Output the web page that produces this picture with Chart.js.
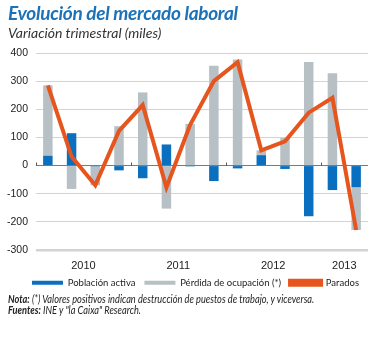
<!DOCTYPE html>
<html>
<head>
<meta charset="utf-8">
<script src="https://cdn.jsdelivr.net/npm/chart.js@4"></script>
<style>
  html, body { margin:0; padding:0; background:#fff; }
  #wrap { position:relative; width:388px; height:338px; overflow:hidden; }
  #c { position:absolute; left:0; top:0; }
  .t { position:absolute; left:8px; white-space:nowrap; }
  #title { top:1px; font-family:Lato, "Open Sans", sans-serif; font-weight:bold; font-style:italic; font-size:19px; color:#1b72b9; letter-spacing:-0.3px; }
  #sub { top:24px; font-family:Lato, "Open Sans", sans-serif; font-style:italic; font-size:14px; color:#333; }
  .note { font-family:Lato, sans-serif; font-style:italic; font-size:11px; color:#222; transform:scaleX(0.84); transform-origin:0 0; }
  #n1 { top:292px; }
  #n2 { top:303px; }
</style>
</head>
<body>
<div id="wrap">
  <canvas id="c" width="388" height="338"></canvas>
  <div id="title" class="t">Evolución del mercado laboral</div>
  <div id="sub" class="t">Variación trimestral (miles)</div>
  <div id="n1" class="t note"><b>Nota:</b> (*) Valores positivos indican destrucción de puestos de trabajo, y viceversa.</div>
  <div id="n2" class="t note"><b>Fuentes:</b> INE y "la Caixa" Research.</div>
</div>
<script>
const quarters = ['I-10','II-10','III-10','IV-10','I-11','II-11','III-11','IV-11','I-12','II-12','III-12','IV-12','I-13','II-13'];
const poblacionActiva = [35, 115, -3, -17, -45, 75, -3, -55, -10, 37, -12, -180, -87, -77];
const perdidaOcupacion = [250, -83, -67, 140, 260, -153, 148, 355, 377, 17, 98, 368, 328, -152];
const parados = [285, 32, -70, 123, 215, -78, 145, 300, 367, 54, 86, 188, 241, -229];
const yearTickPos = [1.5, 5.5, 9.5, 12.5];
const yearLabels = ['2010', '2011', '2012', '2013'];
const yearBoundaries = [-0.5, 3.5, 7.5, 11.5];
const yTicks = [-300, -200, -100, 0, 100, 200, 300, 400];

const regular = '"Liberation Sans", Arial, sans-serif';

const zeroTicks = {
  id: 'zeroTicks',
  afterDatasetsDraw(chart) {
    const xs = chart.scales.x2, ys = chart.scales.y;
    const ctx = chart.ctx;
    const y0 = ys.getPixelForValue(0);
    ctx.save();
    ctx.strokeStyle = '#555';
    ctx.lineWidth = 1;
    yearBoundaries.forEach(b => {
      const x = Math.round(xs.getPixelForValue(b)) + 0.5;
      ctx.beginPath();
      ctx.moveTo(x, y0 - 3);
      ctx.lineTo(x, y0);
      ctx.stroke();
    });
    ctx.restore();
  }
};

new Chart(document.getElementById('c'), {
  data: {
    labels: quarters,
    datasets: [
      { type:'bar', label:'Población activa', data: poblacionActiva, backgroundColor:'#0a6fbf', borderWidth:0, stack:'s', order:1, categoryPercentage:0.8, barPercentage:0.5 },
      { type:'bar', label:'Pérdida de ocupación (*)', data: perdidaOcupacion, backgroundColor:'#b6c0c5', borderWidth:0, stack:'s', order:1, categoryPercentage:0.8, barPercentage:0.5 },
      { type:'line', label:'Parados', data: parados, borderColor:'#e5551d', backgroundColor:'#e5551d', borderWidth:4, pointRadius:0, tension:0, stack:'line', order:0, borderJoinStyle:'miter' }
    ]
  },
  options: {
    responsive:false,
    animation:false,
    layout: { padding: { left:0, right:20, top:53, bottom:40.5 } },
    scales: {
      x: { display:false, stacked:true, offset:true },
      x2: {
        type:'linear', position:'bottom', min:-0.5, max:13.5,
        grid: { display:false, drawTicks:false },
        border: { display:false },
        afterBuildTicks(axis) { axis.ticks = yearTickPos.map(v => ({ value:v })); },
        afterFit(axis) { axis.height = 19; },
        ticks: {
          padding: 9,
          color:'#222',
          font: { family: regular, size: 11 },
          callback(v) { const i = yearTickPos.indexOf(v); return i >= 0 ? yearLabels[i] : ''; }
        }
      },
      y: {
        stacked:true, min:-300, max:400,
        afterBuildTicks(axis) { axis.ticks = yTicks.map(v => ({ value:v })); },
        afterFit(axis) { axis.width = 36; },
        border: { display:false },
        grid: {
          drawTicks:false,
          color: c => c.tick && c.tick.value === 0 ? '#7a7a7a' : '#d3d3d3',
          lineWidth: c => c.tick && c.tick.value === -300 ? 2.5 : 1
        },
        ticks: { padding: 8, color:'#222', font: { family: regular, size: 10.5 } }
      }
    },
    plugins: {
      legend: {
        position:'bottom',
        align:'end',
        labels: {
          boxWidth:31, boxHeight:4, padding:9,
          color:'#222',
          font: { family: 'Lato, sans-serif', size: 9.5 },
          sort: (a, b) => a.datasetIndex - b.datasetIndex
        }
      },
      tooltip: { enabled:false }
    }
  },
  plugins: [zeroTicks]
});
</script>
</body>
</html>
